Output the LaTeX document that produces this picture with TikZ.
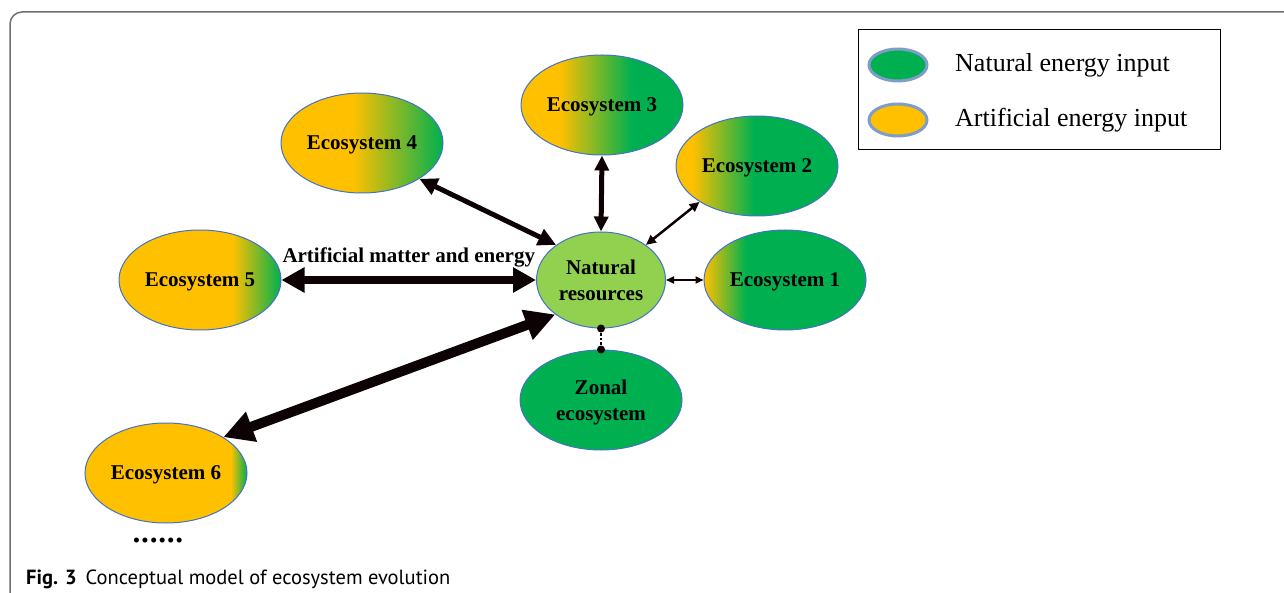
\documentclass[tikz,border=0pt]{standalone}
\usepackage{fontspec}
\setmainfont{Liberation Serif}
\newfontfamily\capfont{PT Sans}
\usetikzlibrary{shapes.geometric,arrows.meta}

\definecolor{orng}{HTML}{FFC000}
\definecolor{grn}{HTML}{00B050}
\definecolor{lgrn}{HTML}{92D050}
\definecolor{rim}{HTML}{4472C4}
\definecolor{legrim}{HTML}{7F9DC9}
\definecolor{framegray}{HTML}{6E6E6E}
\definecolor{arrblack}{HTML}{0D0203}

% shading range 25bp..75bp maps to the ellipse's width
\pgfdeclarehorizontalshading{shfour}{100bp}{color(0bp)=(orng); color(47bp)=(orng); color(75bp)=(grn); color(100bp)=(grn)}
\pgfdeclarehorizontalshading{shfive}{100bp}{color(0bp)=(orng); color(60bp)=(orng); color(75bp)=(grn); color(100bp)=(grn)}
\pgfdeclarehorizontalshading{shthree}{100bp}{color(0bp)=(orng); color(37bp)=(orng); color(59bp)=(grn); color(100bp)=(grn)}
\pgfdeclarehorizontalshading{shtwo}{100bp}{color(0bp)=(orng); color(30bp)=(orng); color(49bp)=(grn); color(100bp)=(grn)}
\pgfdeclarehorizontalshading{shone}{100bp}{color(0bp)=(orng); color(25bp)=(orng); color(38bp)=(grn); color(100bp)=(grn)}
\pgfdeclarehorizontalshading{shsix}{100bp}{color(0bp)=(orng); color(70bp)=(orng); color(75bp)=(grn); color(100bp)=(grn)}

\tikzset{
  eco/.style={ellipse, draw=rim, line width=1pt, minimum width=162pt, minimum height=100pt,
    inner sep=0pt, font=\fontsize{21}{26}\selectfont\bfseries, align=center, text depth=0pt},
  legell/.style={ellipse, draw=legrim, line width=3pt, minimum width=58pt, minimum height=32pt, inner sep=0pt},
  legtxt/.style={anchor=base west, font=\fontsize{26}{30}\selectfont, inner sep=0pt},
  arr/.style={draw=arrblack},
}

\begin{document}
\begin{tikzpicture}[x=1pt,y=-1pt]
\useasboundingbox (0,0) rectangle (1284,593);

% frame
\draw[framegray, line width=1.5pt, rounded corners=12pt] (10,593) -- (10,12) -- (1284,12);

% ecosystems
\node[eco, shading=shfour] (e4) at (362,143) {Ecosystem 4};
\node[eco, shading=shfive] (e5) at (200,280) {Ecosystem 5};
\node[eco, shading=shthree] (e3) at (602,105) {Ecosystem 3};
\node[eco, shading=shtwo] (e2) at (757,166) {Ecosystem 2};
\node[eco, shading=shone] (e1) at (785,280) {Ecosystem 1};
\node[eco, shading=shsix] (e6) at (166,473) {Ecosystem 6};
\node[eco, fill=grn] (zn) at (601,400) {Zonal\\ecosystem};
\node[eco, fill=lgrn, minimum width=129pt, minimum height=96pt] (nr) at (601,280) {Natural\\resources};

% connectors
\draw[arr, line width=5pt, {Triangle[length=18pt,width=17pt]}-{Triangle[length=18pt,width=17pt]}] (e4.-32) -- (nr.142);
\draw[arr, line width=8pt, {Triangle[length=23pt,width=24pt]}-{Triangle[length=23pt,width=24pt]}] (e5.east) -- (nr.west)
  node[midway, above=9pt, inner sep=0pt, font=\fontsize{21}{26}\selectfont\bfseries, text=black] (lab) {Artificial matter and energy};
\draw[arr, line width=10pt, {Triangle[length=30pt,width=30pt]}-{Triangle[length=30pt,width=30pt]}] (e6.32) -- (nr.217);
\draw[arr, line width=5pt, {Triangle[length=15pt,width=14pt]}-{Triangle[length=15pt,width=14pt]}] (e3.south) -- (nr.north);
\draw[arr, line width=2.5pt, {Triangle[length=10pt,width=9pt]}-{Triangle[length=10pt,width=9pt]}] (e2.212) -- (nr.38);
\draw[arr, line width=1.8pt, {Triangle[length=8pt,width=7pt]}-{Triangle[length=8pt,width=7pt]}] (nr.east) -- (e1.west);
\draw[arrblack, line width=2.5pt, dash pattern=on 2.5pt off 2pt] (nr.south) -- (zn.north);
\fill[arrblack] (nr.south) circle (4pt);
\fill[arrblack] (zn.north) circle (4pt);

% more
\node[font=\fontsize{21}{22}\selectfont, inner sep=0pt] (more) at (158,543)
  {\textbullet\kern1.2pt\textbullet\kern1.2pt\textbullet\kern1.2pt\textbullet\kern1.2pt\textbullet\kern1.2pt\textbullet};

% legend
\node[draw=black, line width=1pt, minimum width=362pt, minimum height=120pt, anchor=north west, inner sep=0pt] (leg) at (858,29) {};
\node[legell, fill=grn] (lg1) at (898,65) {};
\node[legell, fill=orng] (lg2) at (898,120) {};
\node[legtxt] (lt1) at (955,72) {Natural energy input};
\node[legtxt] (lt2) at (955,127) {Artificial energy input};

% caption
\node[anchor=base west, inner sep=0pt, font=\capfont\fontsize{20.5}{24}\selectfont] (cap) at (26,584)
  {\textbf{Fig. 3}\hspace{9pt}Conceptual model of ecosystem evolution};
\end{tikzpicture}
\end{document}
